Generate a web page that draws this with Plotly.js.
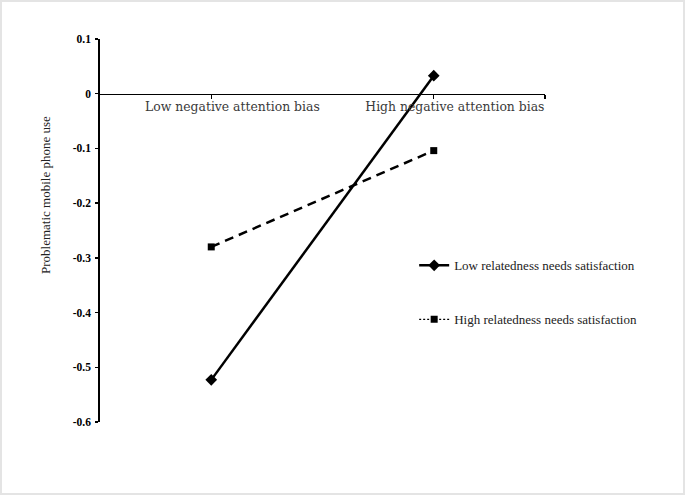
<!DOCTYPE html>
<html>
<head>
<meta charset="utf-8">
<script src="https://cdn.plot.ly/plotly-3.0.1.min.js"></script>
<style>
  html, body { margin: 0; padding: 0; background: #ffffff; }
  #frame { position: absolute; left: 0; top: 0; width: 685px; height: 495px; box-sizing: border-box; border: 2px solid #e4e4e4; background: #fff; }
  #chart { width: 681px; height: 491px; }
</style>
</head>
<body>
<div id="frame"><div id="chart"></div></div>
<script>
// Data
const categories = ["Low negative attention bias", "High negative attention bias"];
const categoryPositions = [0.5, 1.5];
const seriesNames = ["Low relatedness needs satisfaction", "High relatedness needs satisfaction"];
const lowRelatedness = [-0.523, 0.033];
const highRelatedness = [-0.280, -0.104];
const yTickValues = [0.1, 0, -0.1, -0.2, -0.3, -0.4, -0.5, -0.6];
const yTickLabels = ["0.1", "0", "-0.1", "-0.2", "-0.3", "-0.4", "-0.5", "-0.6"];

const serif = "Liberation Serif, Times New Roman, serif";
const labelShift = 0.095;

const traces = [
  {
    x: categoryPositions, y: lowRelatedness, name: seriesNames[0],
    type: "scatter", mode: "lines+markers",
    line: { color: "#000", width: 2.5 },
    marker: { symbol: "diamond", size: 9, color: "#000" },
    legend: "legend", hoverinfo: "skip"
  },
  {
    x: categoryPositions, y: highRelatedness, name: seriesNames[1],
    type: "scatter", mode: "lines+markers",
    line: { color: "#000", width: 2.5, dash: "9px,6px" },
    marker: { symbol: "square", size: 7, color: "#000" },
    showlegend: false, hoverinfo: "skip"
  },
  {
    // legend-only entry for the high series (dotted legend line as in the original)
    x: [null], y: [null], name: seriesNames[1],
    type: "scatter", mode: "lines+markers",
    line: { color: "#000", width: 1.2, dash: "2px,2px" },
    marker: { symbol: "square", size: 7, color: "#000" },
    legend: "legend2", hoverinfo: "skip"
  },
  {
    x: categoryPositions.map(v => v + labelShift), y: [null, null],
    xaxis: "x2", yaxis: "y", type: "scatter", mode: "markers",
    showlegend: false, hoverinfo: "skip", marker: { opacity: 0 }
  }
];

const layout = {
  width: 681, height: 491,
  margin: { l: 98, r: 138, t: 37, b: 71 },
  paper_bgcolor: "#fff", plot_bgcolor: "#fff",
  showlegend: true,
  xaxis: {
    range: [0, 2], anchor: "free", position: 0.6 / 0.7,
    showline: true, linecolor: "#000", linewidth: 1.5,
    showgrid: false, zeroline: false,
    tickmode: "array", tickvals: [0.5, 1.5, 2], ticktext: ["", "", ""],
    ticks: "outside", ticklen: 4, tickwidth: 1.3, tickcolor: "#000",
    fixedrange: true
  },
  xaxis2: {
    range: [0, 2], overlaying: "x", anchor: "free", position: 0.6 / 0.7,
    showline: false, showgrid: false, zeroline: false,
    tickmode: "array", tickvals: categoryPositions.map(v => v + labelShift), ticktext: categories,
    ticks: "", ticklabelstandoff: 4,
    tickfont: { family: "DejaVu Serif, serif", size: 12.4, color: "#3a3a3a" },
    fixedrange: true
  },
  yaxis: {
    range: [-0.6, 0.1],
    showline: true, linecolor: "#000", linewidth: 1.8,
    showgrid: false, zeroline: false,
    tickmode: "array", tickvals: yTickValues, ticktext: yTickLabels,
    ticks: "outside", ticklen: 3, tickwidth: 1.3, tickcolor: "#000",
    tickfont: { family: serif, size: 11.5, color: "#000", weight: "bold" },
    ticklabelstandoff: 2,
    fixedrange: true
  },
  legend: {
    x: 0.706, y: 0.409, xanchor: "left", yanchor: "middle",
    bgcolor: "rgba(0,0,0,0)", borderwidth: 0, itemwidth: 30,
    font: { family: serif, size: 13, color: "#222" }
  },
  legend2: {
    x: 0.706, y: 0.268, xanchor: "left", yanchor: "middle",
    bgcolor: "rgba(0,0,0,0)", borderwidth: 0, itemwidth: 30,
    font: { family: serif, size: 13, color: "#222" }
  },
  annotations: [
    {
      text: "Problematic mobile phone use", textangle: -90,
      xref: "paper", yref: "paper",
      x: (43 - 98) / 445, y: 1 - (193 - 37) / 383,
      xanchor: "center", yanchor: "middle", showarrow: false,
      font: { family: serif, size: 13, color: "#222" }
    }
  ]
};

Plotly.newPlot("chart", traces, layout, { staticPlot: true, displayModeBar: false });
</script>
</body>
</html>
